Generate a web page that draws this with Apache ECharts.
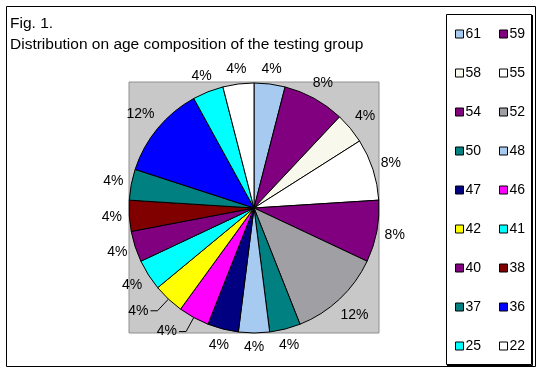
<!DOCTYPE html>
<html><head><meta charset="utf-8">
<script src="https://cdn.jsdelivr.net/npm/echarts@6/dist/echarts.min.js"></script>
<style>html,body{margin:0;padding:0;background:#fff}#c{width:543px;height:374px}</style>
</head><body><div id="c"></div>
<script>
const ages = ['61','59','58','55','54','52','50','48','47','46','42','41','40','38','37','36','25','22'];
const counts = [1,2,1,2,2,3,1,1,1,1,1,1,1,1,1,3,1,1];
const colors = ['#A6CAF0','#800080','#F8F8EC','#FFFFFF','#800080','#A0A0A4','#008080','#A6CAF0','#000080','#FF00FF','#FFFF00','#00FFFF','#800080','#800000','#008080','#0000FF','#00FFFF','#FFFFFF'];
const legendCol1 = ['61','58','54','50','47','42','40','37','25'];
const legendCol2 = ['59','55','52','48','46','41','38','36','22'];
const leaderItems = ['46','42'];

const font = 'Liberation Sans, Arial, sans-serif';
const chart = echarts.init(document.getElementById('c'), null, {renderer:'canvas'});
const legendBase = {
  orient:'vertical', icon:'rect', itemWidth:8, itemHeight:8, itemGap:25,
  textStyle:{fontFamily:font, fontSize:14, color:'#000', lineHeight:14, padding:[0,0,0,-3]},
  itemStyle:{borderColor:'#000', borderWidth:1},
  selectedMode:false, padding:0
};
const LABEL_GAP = 7;
chart.setOption({
  animation:false,
  color: colors,
  graphic:[
    {type:'rect', shape:{x:6.5,y:6.5,width:529,height:360}, style:{fill:'none', stroke:'#000', lineWidth:1}, z:0},
    {type:'rect', shape:{x:129,y:82,width:250,height:251}, style:{fill:'#C8C8C8', stroke:'#909090', lineWidth:1}, z:0},
    {type:'rect', shape:{x:446.5,y:14.5,width:85,height:350}, style:{fill:'#fff', stroke:'#000', lineWidth:1}, z:0},
    {type:'polyline', shape:{points:[[532.5,15],[532.5,365.5],[447,365.5]]}, style:{fill:'none', stroke:'#000', lineWidth:1}, z:0},
    {type:'text', left:10, top:13, style:{text:'Fig. 1.\nDistribution on age composition of the testing group', font:'15.5px '+font, fill:'#000', lineHeight:21}, z:5}
  ],
  legend:[
    Object.assign({}, legendBase, {left:455, top:27, data:legendCol1}),
    Object.assign({}, legendBase, {left:499, top:27, data:legendCol2})
  ],
  series:[{
    type:'pie', center:[254,208], radius:125, startAngle:90, clockwise:true,
    percentPrecision:0, avoidLabelOverlap:false,
    itemStyle:{borderColor:'#000', borderWidth:1},
    label:{show:true, position:'outside', formatter:'{d}%', fontFamily:font, fontSize:14, color:'#000'},
    labelLine:{show:true, length:10, length2:0, lineStyle:{color:'rgba(0,0,0,0)', width:1}},
    emphasis:{disabled:true},
    labelLayout: function(p){
      const pts = p.labelLinePoints;
      if (!pts || pts.length < 2) return {};
      const p0 = pts[0], p1 = pts[1];
      let dx = p1[0]-p0[0], dy = p1[1]-p0[1];
      const L = Math.hypot(dx, dy) || 1; dx /= L; dy /= L;
      const w = p.labelRect.width, h = p.labelRect.height;
      if (leaderItems.includes(ages[p.dataIndex])) {
        const elbow = [p0[0] + dx*16, p0[1] + dy*16];
        const end = [elbow[0] - 7, elbow[1]];
        return {
          x: end[0] - w/2 - 2, y: end[1], align:'center', verticalAlign:'middle',
          labelLinePoints: [[p0[0], p0[1]], elbow, end]
        };
      }
      const g = LABEL_GAP + Math.abs(dx)*w/2 + Math.abs(dy)*h/2;
      return {x: p0[0] + dx*g, y: p0[1] + dy*g, align:'center', verticalAlign:'middle'};
    },
    data: ages.map((a,i)=>{
      const d = {name:a, value:counts[i]};
      if (leaderItems.includes(a)) d.labelLine = {lineStyle:{color:'#000'}};
      return d;
    })
  }]
});
</script></body></html>
